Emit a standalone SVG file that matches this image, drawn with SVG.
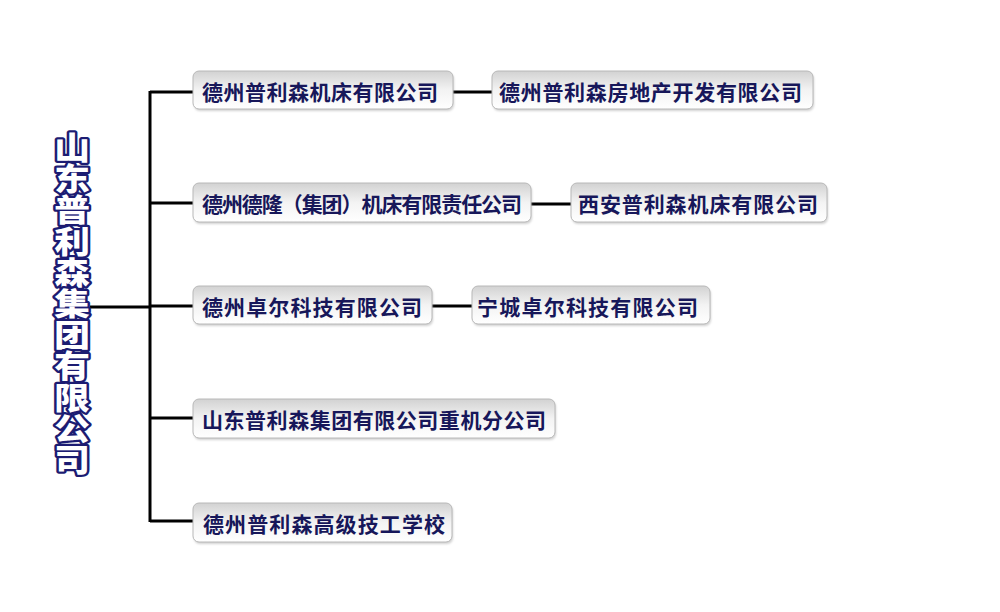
<svg xmlns="http://www.w3.org/2000/svg" width="1000" height="612" viewBox="0 0 1000 612">
<style>
.box{fill:url(#g);stroke:#b8b8b8;stroke-width:1}
.sh{fill:#9a9a9a;opacity:0.45}
.t{font-family:"Noto Sans CJK SC","Noto Sans CJK JP",sans-serif;font-weight:700;font-size:21px;fill:#17175a}
.title{font-family:"Noto Sans CJK SC","Noto Sans CJK JP",sans-serif;font-weight:900;font-size:31px;fill:#ffffff;stroke:#1c1c72;stroke-width:4.5;paint-order:stroke;stroke-linejoin:round;text-anchor:middle}
.c{stroke:#000;stroke-width:3;fill:none}
</style>
<defs>
<linearGradient id="g" x1="0" y1="0" x2="0" y2="1">
<stop offset="0" stop-color="#d2d2d2"/>
<stop offset="0.5" stop-color="#f3f3f3"/>
<stop offset="1" stop-color="#ffffff"/>
</linearGradient>
<filter id="blur" x="-10%" y="-30%" width="120%" height="160%"><feGaussianBlur stdDeviation="1.2"/></filter>
</defs>
<rect width="1000" height="612" fill="#ffffff"/>
<g id="connectors">
<path class="c" d="M150 91V522"/>
<path class="c" d="M90 307H150"/>
<path class="c" d="M150 92H193M150 203H193M150 306H193M150 418H193M150 521H193"/>
<path class="c" d="M453 92H492M531 204H571M432 306H472"/>
</g>
<g id="root" transform="translate(72 0) scale(1.15 1)">
<text class="title" x="0" y="159">山</text>
<text class="title" x="0" y="190.2">东</text>
<text class="title" x="0" y="221.4">普</text>
<text class="title" x="0" y="252.6">利</text>
<text class="title" x="0" y="283.8">森</text>
<text class="title" x="0" y="315">集</text>
<text class="title" x="0" y="346.2">团</text>
<text class="title" x="0" y="377.4">有</text>
<text class="title" x="0" y="408.6">限</text>
<text class="title" x="0" y="439.8">公</text>
<text class="title" x="0" y="471">司</text>
</g>
<g id="n1">
<rect class="sh" x="194" y="73" width="260" height="38" rx="6" filter="url(#blur)"/>
<rect class="box" x="193" y="71" width="260" height="38" rx="6"/>
<text class="t" x="202" y="99.5" textLength="236">德州普利森机床有限公司</text>
</g>
<g id="n1b">
<rect class="sh" x="493" y="73" width="321" height="38" rx="6" filter="url(#blur)"/>
<rect class="box" x="492" y="71" width="321" height="38" rx="6"/>
<text class="t" x="499" y="99.5" textLength="303">德州普利森房地产开发有限公司</text>
</g>
<g id="n2">
<rect class="sh" x="194" y="185" width="338" height="39" rx="6" filter="url(#blur)"/>
<rect class="box" x="193" y="183" width="338" height="39" rx="6"/>
<text class="t" x="202" y="212" textLength="320">德州德隆（集团）机床有限责任公司</text>
</g>
<g id="n2b">
<rect class="sh" x="572" y="185" width="256" height="39" rx="6" filter="url(#blur)"/>
<rect class="box" x="571" y="183" width="256" height="39" rx="6"/>
<text class="t" x="578" y="212" textLength="240">西安普利森机床有限公司</text>
</g>
<g id="n3">
<rect class="sh" x="194" y="288" width="239" height="38" rx="6" filter="url(#blur)"/>
<rect class="box" x="193" y="286" width="239" height="38" rx="6"/>
<text class="t" x="202" y="314.5" textLength="220">德州卓尔科技有限公司</text>
</g>
<g id="n3b">
<rect class="sh" x="473" y="288" width="238" height="38" rx="6" filter="url(#blur)"/>
<rect class="box" x="472" y="286" width="238" height="38" rx="6"/>
<text class="t" x="477" y="314.5" textLength="221">宁城卓尔科技有限公司</text>
</g>
<g id="n4">
<rect class="sh" x="194" y="401" width="362" height="39" rx="6" filter="url(#blur)"/>
<rect class="box" x="193" y="399" width="362" height="39" rx="6"/>
<text class="t" x="202" y="428" textLength="344">山东普利森集团有限公司重机分公司</text>
</g>
<g id="n5">
<rect class="sh" x="194" y="505" width="259" height="39" rx="6" filter="url(#blur)"/>
<rect class="box" x="193" y="503" width="259" height="39" rx="6"/>
<text class="t" x="203" y="532" textLength="242">德州普利森高级技工学校</text>
</g>
</svg>
